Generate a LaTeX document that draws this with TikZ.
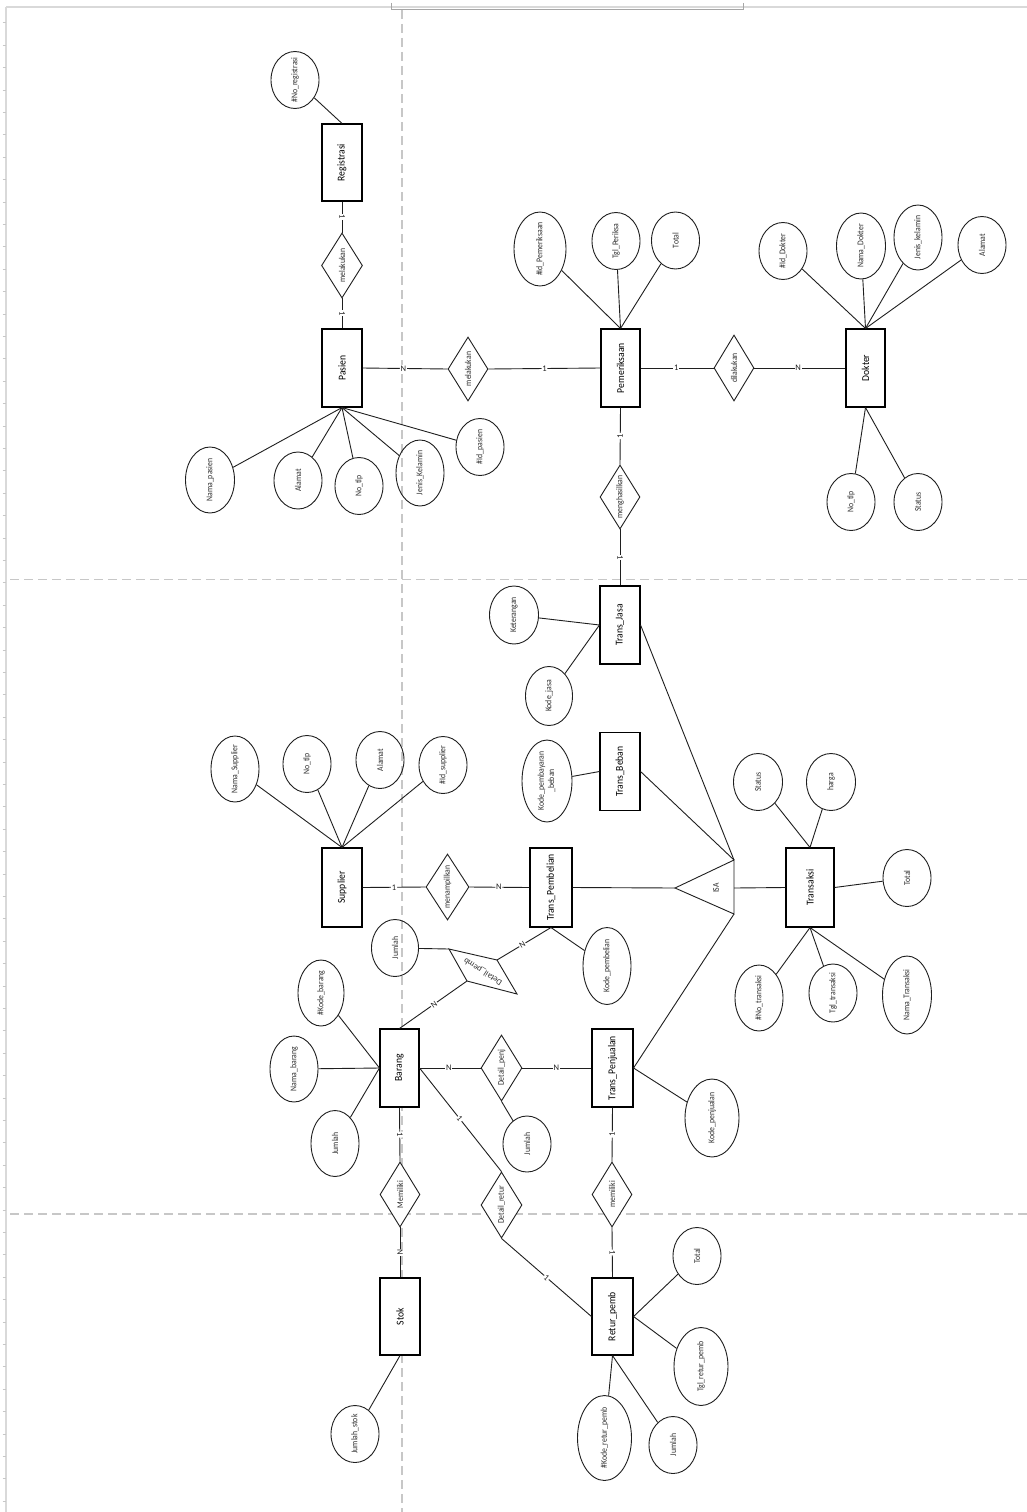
\documentclass[tikz,border=0pt]{standalone}
\usepackage{fontspec}
\setmainfont{Carlito}
\usetikzlibrary{shapes.geometric}
\newcommand\rt[1]{\rotatebox{90}{\scalebox{0.92}[1.05]{#1}}}
\newcommand\rte[1]{\rotatebox{90}{\scalebox{0.92}[1]{#1}}}
\begin{document}
\begin{tikzpicture}[x=1pt,y=-1pt,
  conn/.style={draw=black!88, line width=0.9},
  ent/.style={draw=black, fill=white, line width=1.1, minimum width=40, minimum height=78, inner sep=0, font=\fontsize{10.5}{12}\selectfont},
  attr/.style={ellipse, draw=black!88, line width=0.9, minimum width=48, minimum height=57, inner sep=0},
  rel/.style={diamond, draw=black!88, fill=white, line width=0.9, minimum width=40, minimum height=65, inner sep=0},
  atxt/.style={font=\fontsize{8.4}{9.8}\selectfont, text=black!82, inner sep=0},
  lab/.style={label={[atxt]center:\rt{#1}}},
  card/.style={font=\fontsize{8.5}{9}\selectfont, fill=white, inner sep=0.8, sloped, text=black!88},
  guide/.style={draw=black!22, line width=1.1, dash pattern=on 9 off 5},
]
\useasboundingbox (0,0) rectangle (1027,1512);
\fill[white] (0,0) rectangle (1027,1512);
% page decorations
\draw[black!15, line width=1.5] (6,7) -- (1027,7);
\draw[black!15, line width=1.5] (6,7) -- (6,1512);
\foreach \i in {1,...,67} \draw[black!22, line width=0.6] (2.5,{22.4*\i+0.3}) -- (6,{22.4*\i+0.3});
\draw[black!35, line width=0.8] (391,3) -- (391,9) -- (743,9) -- (743,3);
% page break guides
\draw[guide] (402,10) -- (402,1512);
\draw[guide] (10,579.5) -- (1027,579.5);
\draw[guide] (10,1214) -- (1027,1214);

% ---------- entities
\node[ent, minimum height=77] (RG) at (342,162.5) {\rte{Registrasi}};
\node[ent] (PS) at (342,368) {\rte{Pasien}};
\node[ent, minimum width=39] (PM) at (620.5,368) {\rte{Pemeriksaan}};
\node[ent, minimum width=39] (DK) at (865.5,368) {\rte{Dokter}};
\node[ent] (TJ) at (620,625) {\rte{Trans\_Jasa}};
\node[ent] (TB) at (620,771.5) {\rte{Trans\_Beban}};
\node[ent, minimum width=42, minimum height=79] (TPb) at (551,887.5) {\rte{Trans\_Pembelian}};
\node[ent, minimum height=79] (SP) at (342,887.5) {\rte{Supplier}};
\node[ent, minimum width=48, minimum height=79] (TR) at (810,887.5) {\rte{Transaksi}};
\node[ent, minimum width=39] (BR) at (399.5,1068) {\rte{Barang}};
\node[ent, minimum width=41] (TPj) at (612.5,1068) {\rte{Trans\_Penjualan}};
\node[ent, minimum height=77] (ST) at (400,1316.5) {\rte{Stok}};
\node[ent, minimum width=41, minimum height=77] (RP) at (612.5,1316.5) {\rte{Retur\_pemb}};

% ---------- relationships
\node[rel, minimum width=41, lab=melakukan] (R1) at (342,265.5) {};
\node[rel, minimum height=64, lab=melakukan] (R2) at (468,369) {};
\node[rel, minimum height=66, lab=dilakukan] (R3) at (734,368) {};
\node[rel, minimum height=64, lab=menghasilkan] (R4) at (620,497) {};
\node[rel, minimum width=43, minimum height=66, lab=menampilkan] (R5) at (447.5,887) {};
\node[rel, minimum width=41, minimum height=66, lab=Detail\_penj] (R6) at (501.5,1068) {};
\node[rel, lab=Memiliki] (R7) at (400,1194.5) {};
\node[rel, lab=memiliki] (R8) at (612,1194.5) {};
\node[rel, minimum width=41, minimum height=66, lab=Detail\_retur] (R9) at (501.5,1205) {};

% Detail_pemb (skewed diamond)
\coordinate (dpA) at (449,949);
\coordinate (dpB) at (497,960);
\coordinate (dpC) at (517,994);
\coordinate (dpD) at (467,981);
\filldraw[draw=black!88, fill=white, line width=0.9] (dpA) -- (dpB) -- (dpC) -- (dpD) -- cycle;
\node[atxt] (dptxt) at (483,971.5) {\rotatebox{147}{Detail\_pemb}};

% ISA triangle
\coordinate (isaA) at (675,888);
\coordinate (isaT) at (734,860);
\coordinate (isaB) at (734,914);
\coordinate (isaR) at (734,888);
\draw[black!88, line width=0.9] (isaA) -- (isaT) -- (isaB) -- cycle;
\node[atxt] (isatxt) at (716,888) {\rt{ISA}};

% ---------- attributes
\node[attr, lab=\#No\_registrasi] (noreg) at (295,80) {};

\node[attr, minimum width=49, minimum height=66, lab=Nama\_pasien] (np) at (210,480) {};
\node[attr, lab=Alamat] (al) at (298,480.5) {};
\node[attr, lab=No\_tlp] (nt) at (359,486) {};
\node[attr, minimum height=66, lab=Jenis\_Kelamin] (jk) at (420,473) {};
\node[attr, lab=\#Id\_pasien] (ip) at (480,447) {};

\node[attr, minimum width=52, minimum height=74, lab=\#Id\_Pemeriksaan] (ipm) at (540,249) {};
\node[attr, lab=Tgl\_Periksa] (tgp) at (616,241) {};
\node[attr, lab=Total] (totp) at (675.5,240.5) {};

\node[attr, lab=\#Id\_Dokter] (idd) at (783,251) {};
\node[attr, minimum width=49, minimum height=66, lab=Nama\_Dokter] (nd) at (861,246) {};
\node[attr, minimum height=65, lab=Jenis\_kelamin] (jkd) at (918,237.5) {};
\node[attr, lab=Alamat] (ald) at (982,245) {};
\node[attr, lab=No\_tlp] (ntd) at (851,502) {};
\node[attr, lab=Status] (std) at (918,502) {};

\node[attr, minimum width=49, minimum height=58, lab=Keterangan] (kt) at (514,615) {};
\node[attr, minimum width=47, minimum height=59, lab=Kode\_jasa] (kj) at (549,696) {};
\node[attr, minimum width=50, minimum height=82, label={[atxt]center:\rt{\begin{tabular}{@{}c@{}}Kode\_pembayaran\\\_beban\end{tabular}}}] (kpb) at (547,781) {};

\node[attr, minimum height=66, lab=Nama\_Supplier] (ns) at (235,769) {};
\node[attr, lab=No\_tlp] (nts) at (307,764) {};
\node[attr, lab=Alamat] (als) at (380,760) {};
\node[attr, lab=\#Id\_supplier] (ids) at (443,765) {};

\node[attr, minimum width=49, lab=Status] (sttr) at (758,782) {};
\node[attr, minimum width=49, lab=harga] (hg) at (831,782) {};
\node[attr, lab=Total] (tot) at (907,878) {};
\node[attr, minimum height=66, lab=\#No\_transaksi] (ntr) at (759,998) {};
\node[attr, minimum height=58, lab=Tgl\_transaksi] (tgt) at (833,993) {};
\node[attr, minimum width=49, minimum height=78, lab=Nama\_Transaksi] (nmt) at (907,995) {};

\node[attr, minimum height=77, lab=Kode\_pembelian] (kp) at (607,966) {};
\node[attr, minimum width=47, lab=Jumlah] (jpb) at (395,948) {};

\node[attr, minimum width=46, minimum height=66, lab=\#Kode\_barang] (kb) at (321,993) {};
\node[attr, minimum height=66, lab=Nama\_barang] (nb) at (294,1069) {};
\node[attr, minimum height=66, lab=Jumlah] (jb) at (335,1143.5) {};
\node[attr, minimum height=56, lab=Jumlah] (jpj) at (527,1144) {};
\node[attr, minimum width=54, minimum height=78, lab=Kode\_penjualan] (kpj) at (712,1118) {};

\node[attr, lab=Jumlah\_stok] (js) at (355,1434) {};

\node[attr, lab=Total] (totr) at (697,1256) {};
\node[attr, minimum width=54, minimum height=78, lab=Tgl\_retur\_pemb] (tgr) at (701,1366.5) {};
\node[attr, minimum width=54, minimum height=85, lab=\#Kode\_retur\_pemb] (krp) at (604.5,1438) {};
\node[attr, lab=Jumlah] (jr) at (673,1445) {};

% ---------- relationship connectors
\draw[conn] (RG.south) -- node[card, pos=0.5] {1} (R1.north);
\draw[conn] (R1.south) -- node[card, pos=0.5] {1} (PS.north);
\draw[conn] (PS.east) -- node[card, pos=0.48] {N} (R2.west);
\draw[conn] (R2.east) -- node[card, pos=0.5] {1} (PM.west);
\draw[conn] (PM.east) -- node[card, pos=0.49] {1} (R3.west);
\draw[conn] (R3.east) -- node[card, pos=0.48] {N} (DK.west);
\draw[conn] (PM.south) -- node[card, pos=0.5] {1} (R4.north);
\draw[conn] (R4.south) -- node[card, pos=0.5] {1} (TJ.north);
\draw[conn] (SP.east) -- node[card, pos=0.5] {1} (R5.west);
\draw[conn] (R5.east) -- node[card, pos=0.49] {N} (TPb.west);
\draw[conn] (TPb.south) -- node[card, pos=0.53] {N} (dpB);
\draw[conn] (BR.north) -- node[card, pos=0.51] {N} (dpD);
\draw[conn] (BR.east) -- node[card, pos=0.48] {N} (R6.west);
\draw[conn] (R6.east) -- node[card, pos=0.49] {N} (TPj.west);
\draw[conn] (BR.south) -- node[card, pos=0.5] {1} (R7.north);
\draw[conn] (R7.south) -- node[card, pos=0.5] {N} (ST.north);
\draw[conn] (TPj.south) -- node[card, pos=0.5] {1} (R8.north);
\draw[conn] (R8.south) -- node[card, pos=0.5] {1} (RP.north);
\draw[conn] (BR.east) -- node[card, pos=0.49] {1} (R9.north);
\draw[conn] (R9.south) -- node[card, pos=0.5] {1} (RP.west);
% ISA connectors
\draw[conn] (TJ.east) -- (isaT);
\draw[conn] (TB.east) -- (isaT);
\draw[conn] (TPb.east) -- (isaA);
\draw[conn] (TPj.east) -- (isaB);
\draw[conn] (isaR) -- (TR.west);

% ---------- attribute connectors
\draw[conn] (noreg) -- (RG.north);
\foreach \a in {np,al,nt,jk,ip} \draw[conn] (\a) -- (PS.south);
\foreach \a in {ipm,tgp,totp} \draw[conn] (\a) -- (PM.north);
\foreach \a in {idd,nd,jkd,ald} \draw[conn] (\a) -- (DK.north);
\foreach \a in {ntd,std} \draw[conn] (\a) -- (DK.south);
\foreach \a in {kt,kj} \draw[conn] (\a) -- (TJ.west);
\draw[conn] (kpb) -- (TB.west);
\foreach \a in {ns,nts,als,ids} \draw[conn] (\a) -- (SP.north);
\foreach \a in {sttr,hg} \draw[conn] (\a) -- (TR.north);
\draw[conn] (tot) -- (TR.east);
\foreach \a in {ntr,tgt,nmt} \draw[conn] (\a) -- (TR.south);
\draw[conn] (kp) -- (TPb.south);
\draw[conn] (jpb) -- (dpA);
\foreach \a in {kb,nb,jb} \draw[conn] (\a) -- (BR.west);
\draw[conn] (jpj) -- (R6.south);
\draw[conn] (kpj) -- (TPj.east);
\draw[conn] (js) -- (ST.south);
\foreach \a in {totr,tgr} \draw[conn] (\a) -- (RP.east);
\foreach \a in {krp,jr} \draw[conn] (\a) -- (RP.south);
\end{tikzpicture}
\end{document}
